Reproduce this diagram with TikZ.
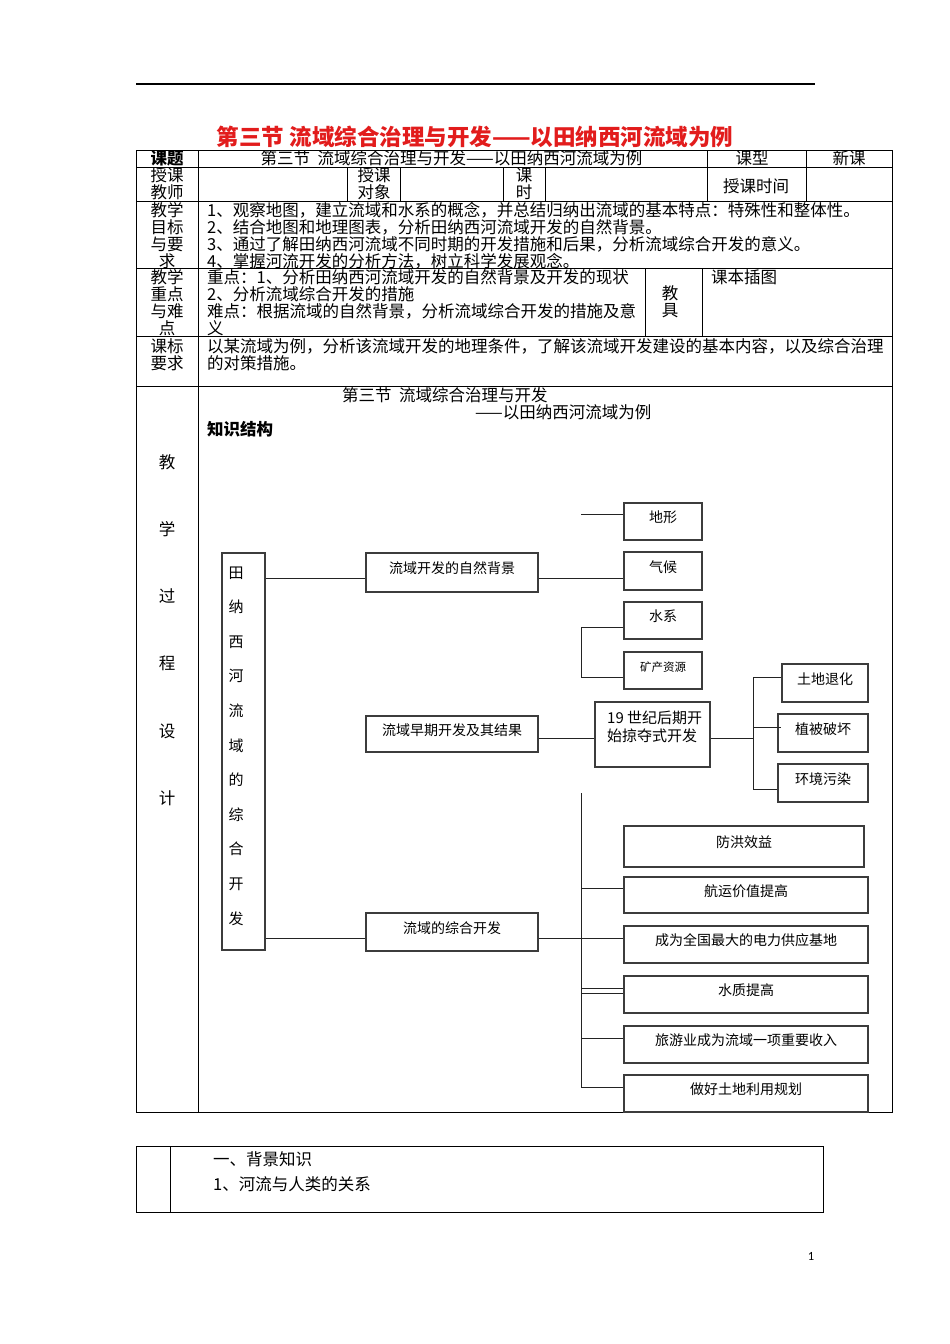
\documentclass[tikz,border=0pt]{standalone}
\usepackage{fontspec}
\setmainfont{Noto Sans CJK SC}
\newfontfamily\latf{Carlito}
\definecolor{boxc}{RGB}{60,60,60}
\definecolor{linec}{RGB}{35,35,35}
\definecolor{titlered}{RGB}{226,28,28}
\begin{document}
\begin{tikzpicture}[x=1pt,y=-1pt,
  tl/.style={draw=black, line width=0.8pt},
  t/.style={inner sep=0pt, font=\fontsize{16.5}{17}\selectfont},
  tb/.style={t, align=left, anchor=west},
  lbl/.style={t, align=center},
  bx/.style={draw=boxc, line width=1.2pt, inner sep=0pt, text height=10pt, text depth=8pt, font=\fontsize{14}{16}\selectfont},
  ln/.style={draw=linec, line width=1pt}]
\fill[white] (0,0) rectangle (950,1344);
\useasboundingbox (0,0) rectangle (950,1344);

% top rule and title
\draw[line width=1.2pt] (136,84) -- (815,84);
\node[inner sep=0pt, font=\fontsize{22.5}{24}\selectfont\bfseries, text=titlered] (title) at (475,137) {第三节 流域综合治理与开发——以田纳西河流域为例};

% table frame
\draw[tl] (136,150) rectangle (892,1112);
\foreach \yy in {167,201,268,336,386} \draw[tl] (136,\yy) -- (892,\yy);
\draw[tl] (198,150) -- (198,1112);
\foreach \xx in {707,806} \draw[tl] (\xx,150) -- (\xx,201);
\foreach \xx in {347,400,503,545} \draw[tl] (\xx,167) -- (\xx,201);
\foreach \xx in {645,702} \draw[tl] (\xx,268) -- (\xx,336);

% row 1
\node[t, font=\fontsize{16.5}{17}\selectfont\bfseries] (kt) at (167,158) {课题};
\node[t] (ktt) at (451.5,158) {第三节~~流域综合治理与开发——以田纳西河流域为例};
\node[t] (kx) at (752,158) {课型};
\node[t] (xk) at (849,158) {新课};
% row 2
\node[lbl] (skjs) at (167,184) {授课\\教师};
\node[lbl] (skdx) at (374,184) {授课\\对象};
\node[lbl] (ks) at (524,184) {课\\时};
\node[t] (sksj) at (756,186) {授课时间};
% row 3
\node[lbl] (mb) at (167,235.5) {教学\\目标\\与要\\求};
\node[tb] (mbt) at (207,235.5) {1、观察地图，建立流域和水系的概念，并总结归纳出流域的基本特点：特殊性和整体性。\\2、结合地图和地理图表，分析田纳西河流域开发的自然背景。\\3、通过了解田纳西河流域不同时期的开发措施和后果，分析流域综合开发的意义。\\4、掌握河流开发的分析方法，树立科学发展观念。};
% row 4
\node[lbl] (zd) at (167,302.5) {教学\\重点\\与难\\点};
\node[tb] (zdt) at (207,302.5) {重点：1、分析田纳西河流域开发的自然背景及开发的现状\\2、分析流域综合开发的措施\\难点：根据流域的自然背景，分析流域综合开发的措施及意\\义};
\node[lbl] (jj) at (670,302) {教\\具};
\node[tb] (jjt) at (711,277) {课本插图};
% row 5
\node[lbl] (kb) at (167,354.5) {课标\\要求};
\node[tb] (kbt) at (207,354.5) {以某流域为例，分析该流域开发的地理条件，了解该流域开发建设的基本内容，以及综合治理\\的对策措施。};
% row 6
\node[t, align=center, font=\fontsize{16.5}{67.2}\selectfont] (jxgc) at (167,630) {教\\学\\过\\程\\设\\计};
\node[tb] (h1) at (342,395) {第三节~~流域综合治理与开发};
\node[tb] (h2) at (475,412) {——以田纳西河流域为例};
\node[tb, font=\fontsize{16.5}{17}\selectfont\bfseries] (zsjg) at (207,429) {知识结构};

% diagram boxes
\node[draw=boxc, line width=1.2pt, minimum width=43pt, minimum height=397pt, inner sep=0pt] (vb) at (243.5,751.5) {};
\node[inner sep=0pt, align=center, font=\fontsize{15}{34.6}\selectfont] (vbt) at (236,746) {田\\纳\\西\\河\\流\\域\\的\\综\\合\\开\\发};
\node[bx, minimum width=172pt, minimum height=39pt] (nb) at (452,572.5) {流域开发的自然背景};
\node[bx, minimum width=172pt, minimum height=36pt] (ne) at (452,734) {流域早期开发及其结果};
\node[bx, minimum width=172pt, minimum height=38pt] (nc) at (452,932) {流域的综合开发};
\node[bx, minimum width=78pt, minimum height=37pt] (dx) at (663,521.5) {地形};
\node[bx, minimum width=78pt, minimum height=38pt] (qh) at (663,571) {气候};
\node[bx, minimum width=78pt, minimum height=37pt] (sx) at (663,620.5) {水系};
\node[bx, minimum width=78pt, minimum height=37pt, font=\fontsize{11.5}{13}\selectfont] (kc) at (663,670.5) {矿产资源};
\node[draw=boxc, line width=1.2pt, minimum width=115pt, minimum height=65pt, inner sep=0pt] (e19) at (652.5,734.5) {};
\node[inner sep=0pt, align=left, anchor=west, font=\fontsize{15}{18}\selectfont] (e19t) at (607,727) {19 世纪后期开\\始掠夺式开发};
\node[bx, minimum width=86pt, minimum height=38pt] (td) at (825,683) {土地退化};
\node[bx, minimum width=90pt, minimum height=38pt] (zb) at (823,733) {植被破坏};
\node[bx, minimum width=90pt, minimum height=38pt] (hj) at (823,783) {环境污染};
\node[bx, minimum width=240pt, minimum height=41pt] (fh) at (744,846.5) {防洪效益};
\node[bx, minimum width=244pt, minimum height=36pt] (hy) at (746,895) {航运价值提高};
\node[bx, minimum width=244pt, minimum height=37pt] (cw) at (746,944.5) {成为全国最大的电力供应基地};
\node[bx, minimum width=244pt, minimum height=37pt] (sz) at (746,994.5) {水质提高};
\node[bx, minimum width=244pt, minimum height=37pt] (ly) at (746,1044.5) {旅游业成为流域一项重要收入};
\node[bx, minimum width=244pt, minimum height=37pt] (zh) at (746,1093.5) {做好土地利用规划};

% connectors
\draw[ln] (vb.east |- 0,578) -- (nb.west |- 0,578);
\draw[ln] (nb.east |- 0,578) -- (qh.west |- 0,578);
\coordinate (dxend) at (581,514);
\draw[ln] (dxend) -- (dx.west |- dxend);
\coordinate (br1) at (581,627);
\coordinate (br2) at (581,677);
\draw[ln] (sx.west |- br1) -- (br1) -- (br2) -- (kc.west |- br2);
\draw[ln] (ne.east |- 0,738.5) -- (e19.west |- 0,738.5);
\coordinate (bus1) at (753,738.5);
\coordinate (bt) at (753,677);
\coordinate (bb) at (753,789);
\coordinate (bm) at (753,727);
\draw[ln] (e19.east |- bus1) -- (bus1);
\draw[ln] (td.west |- bt) -- (bt) -- (bb) -- (hj.west |- bb);
\draw[ln] (bm) -- ([xshift=4pt]zb.west |- bm);
\draw[ln] (vb.east |- 0,938) -- (nc.west |- 0,938);
\draw[ln] (nc.east |- 0,938) -- (cw.west |- 0,938);
\coordinate (vtop) at (581,793);
\coordinate (vbot) at (581,1087);
\draw[ln] (vtop) -- (vbot) -- (zh.west |- vbot);
\draw[ln] (vtop |- 0,888) -- (hy.west |- 0,888);
\draw[ln] (vtop |- 0,988) -- (sz.west |- 0,988);
\draw[ln] (vtop |- 0,993) -- (sz.west |- 0,993);
\draw[ln] (vtop |- 0,1038) -- (ly.west |- 0,1038);

% bottom table
\draw[tl] (136,1146) rectangle (823,1212);
\draw[tl] (170,1146) -- (170,1212);
\node[tb] (bj) at (213,1159) {一、背景知识};
\node[tb] (hl) at (213,1184) {1、河流与人类的关系};

% page number
\node[inner sep=0pt, font=\latf\fontsize{12.5}{14}\selectfont] (pg) at (811,1256) {1};
\end{tikzpicture}
\end{document}
